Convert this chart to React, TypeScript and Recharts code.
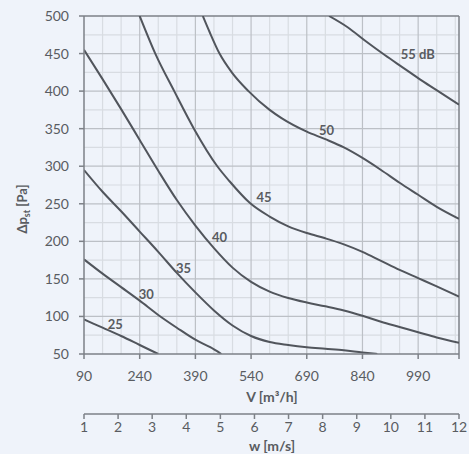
import React from 'react';
import { LineChart, Line, XAxis, YAxis, ReferenceDot } from 'recharts';

// axes
const flowTicks = [90, 240, 390, 540, 690, 840, 990, 1100];
const pressureTicks = [50, 100, 150, 200, 250, 300, 350, 400, 450, 500];
const speedTicks = [1, 2, 3, 4, 5, 6, 7, 8, 9, 10, 11, 12];

// sound level curves, V [m3/h] -> dp [Pa]
const curve25 = [
  { v: 90, p: 96 }, { v: 140, p: 85 }, { v: 190, p: 74 }, { v: 240, p: 62 }, { v: 290, p: 50 },
];
const curve30 = [
  { v: 90, p: 176 }, { v: 140, p: 157 }, { v: 190, p: 139 }, { v: 240, p: 121 }, { v: 290, p: 102 },
  { v: 340, p: 85 }, { v: 390, p: 69 }, { v: 430, p: 59 }, { v: 460, p: 50 },
];
const curve35 = [
  { v: 90, p: 295 }, { v: 140, p: 266 }, { v: 190, p: 240 }, { v: 240, p: 213 }, { v: 290, p: 186 },
  { v: 340, p: 158 }, { v: 390, p: 132 }, { v: 440, p: 108 }, { v: 490, p: 88 }, { v: 540, p: 74 },
  { v: 590, p: 66 }, { v: 640, p: 62 }, { v: 690, p: 59 }, { v: 740, p: 57 }, { v: 790, p: 55 },
  { v: 840, p: 52 }, { v: 880, p: 50 },
];
const curve40 = [
  { v: 90, p: 455 }, { v: 140, p: 416 }, { v: 190, p: 376 }, { v: 240, p: 335 }, { v: 290, p: 294 },
  { v: 340, p: 255 }, { v: 390, p: 221 }, { v: 440, p: 191 }, { v: 490, p: 165 }, { v: 540, p: 146 },
  { v: 590, p: 133 }, { v: 640, p: 124.5 }, { v: 690, p: 118.5 }, { v: 740, p: 113.5 }, { v: 790, p: 108 },
  { v: 840, p: 101 }, { v: 890, p: 93 }, { v: 940, p: 86 }, { v: 990, p: 79 }, { v: 1040, p: 72 },
  { v: 1100, p: 65 },
];
const curve45 = [
  { v: 240, p: 500 }, { v: 282, p: 450 }, { v: 333, p: 400 }, { v: 386, p: 350 }, { v: 449, p: 300 },
  { v: 482, p: 280 }, { v: 537, p: 251 }, { v: 590, p: 233 }, { v: 640, p: 220 }, { v: 690, p: 211 },
  { v: 740, p: 204 }, { v: 790, p: 196 }, { v: 840, p: 186 }, { v: 890, p: 174 }, { v: 940, p: 162 },
  { v: 990, p: 151 }, { v: 1040, p: 140 }, { v: 1100, p: 126.5 },
];
const curve50 = [
  { v: 410, p: 500 }, { v: 428, p: 479 }, { v: 455, p: 450 }, { v: 488, p: 425 }, { v: 533, p: 400 },
  { v: 590, p: 375 }, { v: 622, p: 364 }, { v: 690, p: 346 }, { v: 740, p: 336 }, { v: 790, p: 325 },
  { v: 840, p: 311 }, { v: 890, p: 295 }, { v: 940, p: 278 }, { v: 990, p: 262 }, { v: 1040, p: 246 },
  { v: 1100, p: 230 },
];
const curve55 = [
  { v: 750, p: 500 }, { v: 800, p: 485 }, { v: 850, p: 466 }, { v: 900, p: 448 }, { v: 950, p: 431 },
  { v: 1000, p: 414 }, { v: 1050, p: 398 }, { v: 1100, p: 382 },
];

const curves = [curve25, curve30, curve35, curve40, curve45, curve50, curve55];

const curveLabels = [
  { text: '25', v: 174, p: 90 },
  { text: '30', v: 258, p: 130 },
  { text: '35', v: 358, p: 164 },
  { text: '40', v: 455, p: 206 },
  { text: '45', v: 575, p: 259 },
  { text: '50', v: 743, p: 348 },
  { text: '55 dB', v: 989, p: 449 },
];

// grid
const majorX = [240, 390, 540, 690, 840, 990];
const minorX = [140, 190, 290, 340, 440, 490, 590, 640, 740, 790, 890, 940, 1040, 1090];
const majorY = [100, 150, 200, 250, 300, 350, 400, 450];
const minorY = [75, 125, 175, 225, 275, 325, 375, 425, 475];

// only used to give the m/s axis its range
const speedRows = speedTicks.map((w) => ({ w }));

const W = 469;
const H = 454;
const M = { top: 16, right: 10, left: 0, bottom: 0 };
const Y_AXIS_W = 84;
const X_AXES_H = 100;
const X_MIN = 90, X_MAX = 1100, Y_MIN = 50, Y_MAX = 500;

const FONT = 'Lato, "Open Sans", sans-serif';
const TEXT = '#595c61';
const AXIS = '#7d8187';
const MAJOR = '#bcc0c6';
const MINOR = '#d8dce2';

const hideLast = (v: number) => (v === 1100 ? '' : String(v));

// background grid, same plot box as the chart below
function Grid() {
  const left = M.left + Y_AXIS_W;
  const right = W - M.right;
  const top = M.top;
  const bottom = H - M.bottom - X_AXES_H;
  const sx = (v: number) => left + ((v - X_MIN) / (X_MAX - X_MIN)) * (right - left);
  const sy = (p: number) => bottom - ((p - Y_MIN) / (Y_MAX - Y_MIN)) * (bottom - top);
  const vline = (v: number, color: string, key: string) => (
    <line key={key} x1={sx(v)} x2={sx(v)} y1={top} y2={bottom} stroke={color} strokeWidth={1.2} />
  );
  const hline = (p: number, color: string, key: string) => (
    <line key={key} x1={left} x2={right} y1={sy(p)} y2={sy(p)} stroke={color} strokeWidth={1.2} />
  );
  return (
    <svg width={W} height={H} style={{ position: 'absolute', left: 0, top: 0 }}>
      {minorX.map((v) => vline(v, MINOR, `mx${v}`))}
      {minorY.map((p) => hline(p, MINOR, `my${p}`))}
      {majorX.map((v) => vline(v, MAJOR, `Mx${v}`))}
      {majorY.map((p) => hline(p, MAJOR, `My${p}`))}
      <line x1={left} x2={right} y1={sy(Y_MAX)} y2={sy(Y_MAX)} stroke={AXIS} strokeWidth={1.5} />
      <line x1={sx(X_MAX)} x2={sx(X_MAX)} y1={top} y2={bottom} stroke={AXIS} strokeWidth={1.5} />
    </svg>
  );
}

export default function App() {
  return (
    <div style={{ position: 'absolute', left: 0, top: 0, width: W, height: H, background: '#eff3fa' }}>
      <Grid />
      <div style={{ position: 'absolute', left: 0, top: 0 }}>
        <LineChart width={W} height={H} margin={M}>
          <XAxis
            dataKey="v"
            type="number"
            domain={[X_MIN, X_MAX]}
            ticks={flowTicks}
            tickFormatter={hideLast}
            allowDataOverflow
            height={60}
            stroke={AXIS}
            strokeWidth={1.5}
            tickSize={5}
            tickMargin={12}
            tick={{ fill: TEXT, fontSize: 14, fontFamily: FONT }}
            label={{
              content: () => (
                <text x={272} y={402} textAnchor="middle" fill={TEXT} fontSize={14} fontWeight="bold" fontFamily={FONT}>
                  V [m³/h]
                </text>
              ),
            }}
          />
          <XAxis
            xAxisId="w"
            dataKey="w"
            type="number"
            domain={[1, 12]}
            ticks={speedTicks}
            allowDataOverflow
            height={40}
            stroke={AXIS}
            strokeWidth={1.5}
            tickSize={5}
            tickMargin={3}
            tick={{ fill: TEXT, fontSize: 14, fontFamily: FONT }}
            label={{
              content: () => (
                <text x={272} y={451} textAnchor="middle" fill={TEXT} fontSize={14} fontWeight="bold" fontFamily={FONT}>
                  w [m/s]
                </text>
              ),
            }}
          />
          <YAxis
            type="number"
            domain={[Y_MIN, Y_MAX]}
            ticks={pressureTicks}
            allowDataOverflow
            width={Y_AXIS_W}
            stroke={AXIS}
            strokeWidth={1.5}
            tickSize={5}
            tickMargin={10}
            tick={{ fill: TEXT, fontSize: 14, fontFamily: FONT }}
            label={{
              content: () => (
                <text
                  x={27}
                  y={209}
                  transform="rotate(-90 27 209)"
                  textAnchor="middle"
                  fill={TEXT}
                  fontSize={13}
                  fontWeight="bold"
                  fontFamily={FONT}
                >
                  Δp<tspan fontSize={9} dy={3}>st</tspan>
                  <tspan dy={-3}> [Pa]</tspan>
                </text>
              ),
            }}
          />

          <Line
            xAxisId="w"
            data={speedRows}
            dataKey="none"
            stroke="none"
            dot={false}
            activeDot={false}
            legendType="none"
            isAnimationActive={false}
          />

          {curves.map((data, i) => (
            <Line
              key={`c${i}`}
              data={data}
              dataKey="p"
              type="monotone"
              stroke="#51555c"
              strokeWidth={2}
              dot={false}
              activeDot={false}
              isAnimationActive={false}
            />
          ))}

          {curveLabels.map((l) => (
            <ReferenceDot
              key={l.text}
              x={l.v}
              y={l.p}
              r={0}
              fill="none"
              stroke="none"
              label={{
                content: (props: any) => {
                  const vb = props.viewBox || {};
                  return (
                    <text
                      x={vb.x + (vb.width || 0) / 2}
                      y={vb.y + (vb.height || 0) / 2}
                      textAnchor="middle"
                      dominantBaseline="central"
                      fill={TEXT}
                      fontSize={13}
                      fontWeight="bold"
                      fontFamily={FONT}
                    >
                      {l.text}
                    </text>
                  );
                },
              }}
            />
          ))}
        </LineChart>
      </div>
    </div>
  );
}
